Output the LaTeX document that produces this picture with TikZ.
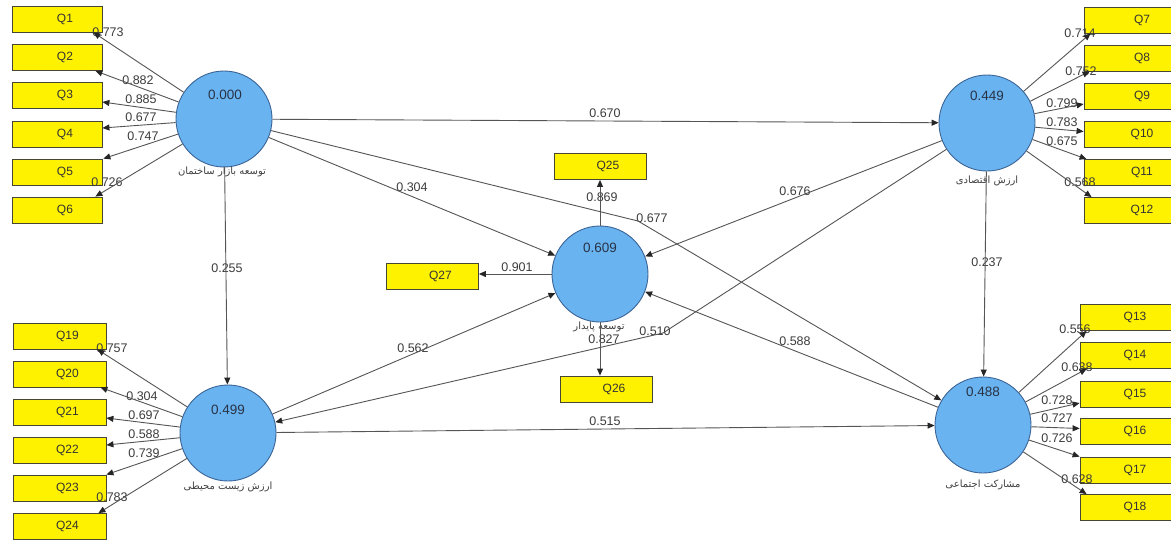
\documentclass[tikz,border=0pt]{standalone}
\usepackage{fontspec}
\setmainfont{Liberation Sans}
\newfontfamily\farsi[Script=Arabic]{DejaVu Sans}
\TeXXeTstate=1
\usetikzlibrary{arrows.meta,calc}
\definecolor{lvfill}{RGB}{105,180,240}
\definecolor{lvdraw}{RGB}{60,100,150}
\definecolor{lncol}{RGB}{85,85,85}
\definecolor{txtcol}{RGB}{60,60,60}
\definecolor{valcol}{RGB}{40,50,70}
\definecolor{boxdraw}{RGB}{70,70,50}
\tikzset{
 qbox/.style={draw=boxdraw, fill=yellow, minimum height=26pt, inner sep=0pt, line width=0.8pt, font=\fontsize{12}{14}\selectfont, text=black!80},
 lv/.style={circle, draw=lvdraw, fill=lvfill, minimum size=96pt, inner sep=0pt, line width=0.9pt},
 ln/.style={draw=lncol, line width=0.9pt, -{Triangle[length=7pt,width=6pt,color=black!85]}},
 nb/.style={font=\fontsize{12.5}{14}\selectfont, text=txtcol, inner sep=0pt},
 val/.style={font=\fontsize{13.5}{15}\selectfont, text=valcol, inner sep=0pt},
 plabel/.style={font=\farsi\fontsize{10}{12}\selectfont, text=black!75, inner sep=0pt},
}
\begin{document}
\begin{tikzpicture}[x=1pt,y=-1pt]
\useasboundingbox[fill=white] (0,0) rectangle (1171,542);
% indicator boxes left top
\begin{scope}[every node/.style={qbox, minimum width=90pt}]
\node (q1) at (57,19) {\hspace*{16pt}Q1};
\node (q2) at (57,57.5) {\hspace*{16pt}Q2};
\node (q3) at (57,95) {\hspace*{16pt}Q3};
\node (q4) at (57,134) {\hspace*{16pt}Q4};
\node (q5) at (57,172) {\hspace*{16pt}Q5};
\node (q6) at (57,210) {\hspace*{16pt}Q6};
\end{scope}
\begin{scope}[every node/.style={qbox, minimum width=93pt}]
\node (q19) at (59.5,336) {\hspace*{16pt}Q19};
\node (q20) at (59.5,374) {\hspace*{16pt}Q20};
\node (q21) at (59.5,412) {\hspace*{16pt}Q21};
\node (q22) at (59.5,450) {\hspace*{16pt}Q22};
\node (q23) at (59.5,488) {\hspace*{16pt}Q23};
\node (q24) at (59.5,526.5) {\hspace*{16pt}Q24};
\end{scope}
\begin{scope}[every node/.style={qbox, minimum width=100pt}]
\node (q7) at (1134,20) {\hspace*{16pt}Q7};
\node (q8) at (1134,58) {\hspace*{16pt}Q8};
\node (q9) at (1134,96) {\hspace*{16pt}Q9};
\node (q10) at (1134,134.5) {\hspace*{16pt}Q10};
\node (q11) at (1134,172.5) {\hspace*{16pt}Q11};
\node (q12) at (1134,210.5) {\hspace*{16pt}Q12};
\end{scope}
\begin{scope}[every node/.style={qbox, minimum width=94pt}]
\node (q13) at (1127,317.5) {\hspace*{16pt}Q13};
\node (q14) at (1127,355.5) {\hspace*{16pt}Q14};
\node (q15) at (1127,394) {\hspace*{16pt}Q15};
\node (q16) at (1127,431.5) {\hspace*{16pt}Q16};
\node (q17) at (1127,470) {\hspace*{16pt}Q17};
\node (q18) at (1127,507.5) {\hspace*{16pt}Q18};
\end{scope}
\begin{scope}[every node/.style={qbox, minimum width=92pt}]
\node (q25) at (600,166.5) {\hspace*{16pt}Q25};
\node (q27) at (432.5,276.5) {\hspace*{16pt}Q27};
\node (q26) at (606,389) {\hspace*{16pt}Q26};
\end{scope}
% latent variables
\node[lv] (A) at (224,119) {};
\node[lv] (B) at (987,123) {};
\node[lv] (C) at (600,274) {};
\node[lv] (D) at (228,433) {};
\node[lv] (E) at (983,425) {};
\node[val] (Av) at (225,95) {0.000};
\node[val] (Bv) at (987,96) {0.449};
\node[val] (Cv) at (600,248) {0.609};
\node[val] (Dv) at (228,410) {0.499};
\node[val] (Ev) at (983,392) {0.488};
\node[plabel] (An) at (222,172) {\beginR توسعه بازار ساختمان\endR};
\node[plabel] (Bn) at (987,181) {\beginR ارزش اقتصادی\endR};
\node[plabel] (Cn) at (599,327) {\beginR توسعه پایدار\endR};
\node[plabel] (Dn) at (228,487) {\beginR ارزش زیست محیطی\endR};
\node[plabel] (En) at (983,485) {\beginR مشارکت اجتماعی\endR};
% loading labels
\node[nb] (l1) at (108,32) {0.773};
\node[nb] (l2) at (138,80) {0.882};
\node[nb] (l3) at (141,99) {0.885};
\node[nb] (l4) at (141,117) {0.677};
\node[nb] (l5) at (143,136) {0.747};
\node[nb] (l6) at (107,182) {0.726};
\node[nb] (l7) at (1080,33) {0.714};
\node[nb] (l8) at (1081,71) {0.752};
\node[nb] (l9) at (1062,103) {0.799};
\node[nb] (l10) at (1062,122) {0.783};
\node[nb] (l11) at (1062,141) {0.675};
\node[nb] (l12) at (1080,182) {0.568};
\node[nb] (l19) at (112,348) {0.757};
\node[nb] (l20) at (142,396) {0.304};
\node[nb] (l21) at (144,415) {0.697};
\node[nb] (l22) at (144,434) {0.588};
\node[nb] (l23) at (144,453) {0.739};
\node[nb] (l24) at (112,497) {0.783};
\node[nb] (l13) at (1075,329) {0.556};
\node[nb] (l14) at (1077,367) {0.638};
\node[nb] (l15) at (1057,400) {0.728};
\node[nb] (l16) at (1057,418) {0.727};
\node[nb] (l17) at (1057,438) {0.726};
\node[nb] (l18) at (1077,479) {0.628};
\node[nb] (l25) at (602,197) {0.869};
\node[nb] (l27) at (517,267) {0.901};
\node[nb] (l26) at (604,339) {0.827};
% path labels
\node[nb] (pAB) at (605,113) {0.670};
\node[nb] (pAC) at (412,187) {0.304};
\node[nb] (pAE) at (652,218) {0.677};
\node[nb] (pBC) at (795,191) {0.676};
\node[nb] (pBD) at (655,331) {0.510};
\node[nb] (pEC) at (795,341) {0.588};
\node[nb] (pDC) at (413,348) {0.562};
\node[nb] (pDE) at (605,421) {0.515};
\node[nb] (pAD) at (227,268) {0.255};
\node[nb] (pBE) at (987,262) {0.237};
% bend points
\coordinate (bAE) at (638,221);
\coordinate (bBD) at (663,333);
% measurement arrows
\draw[ln] (A) -- ($(q1.south east)+(-9,0)$);
\draw[ln] (A) -- ($(q2.south east)+(-7,0)$);
\draw[ln] (A) -- ($(q3.east)+(0,7)$);
\draw[ln] (A) -- ($(q4.east)+(0,-6)$);
\draw[ln] (A) -- ($(q5.north east)+(1,0)$);
\draw[ln] (A) -- ($(q6.north east)+(-7,0)$);
\draw[ln] (D) -- ($(q19.south east)+(-9,0)$);
\draw[ln] (D) -- ($(q20.south east)+(-6,0)$);
\draw[ln] (D) -- ($(q21.east)+(0,6)$);
\draw[ln] (D) -- ($(q22.east)+(0,-5)$);
\draw[ln] (D) -- (q23.north east);
\draw[ln] (D) -- ($(q24.north east)+(-8,0)$);
\draw[ln] (B) -- ($(q7.south west)+(7,0)$);
\draw[ln] (B) -- ($(q8.south west)+(6,0)$);
\draw[ln] (B) -- ($(q9.west)+(0,8)$);
\draw[ln] (B) -- ($(q10.west)+(0,-3)$);
\draw[ln] (B) -- ($(q11.north west)+(3,0)$);
\draw[ln] (B) -- ($(q12.north west)+(8,0)$);
\draw[ln] (E) -- ($(q13.south west)+(7,0)$);
\draw[ln] (E) -- ($(q14.south west)+(7,0)$);
\draw[ln] (E) -- ($(q15.west)+(0,9)$);
\draw[ln] (E) -- ($(q16.west)+(0,-3)$);
\draw[ln] (E) -- (q17.north west);
\draw[ln] (E) -- ($(q18.north west)+(7,0)$);
\draw[ln] (C.north) -- (C.north |- q25.south);
\draw[ln] (C.south) -- (C.south |- q26.north);
\draw[ln] (C.west) -- (C.west -| q27.east);
% structural arrows
\draw[ln] (A) -- (B);
\draw[ln] (A) -- (C);
\draw[ln] (A) -- (D);
\draw[ln] (A) -- (bAE) -- (E);
\draw[ln] (B) -- (C);
\draw[ln] (B) -- (E);
\draw[ln] (B) -- (bBD) -- (D);
\draw[ln] (D) -- (C);
\draw[ln] (D) -- (E);
\draw[ln] (E) -- (C);
\end{tikzpicture}
\end{document}
